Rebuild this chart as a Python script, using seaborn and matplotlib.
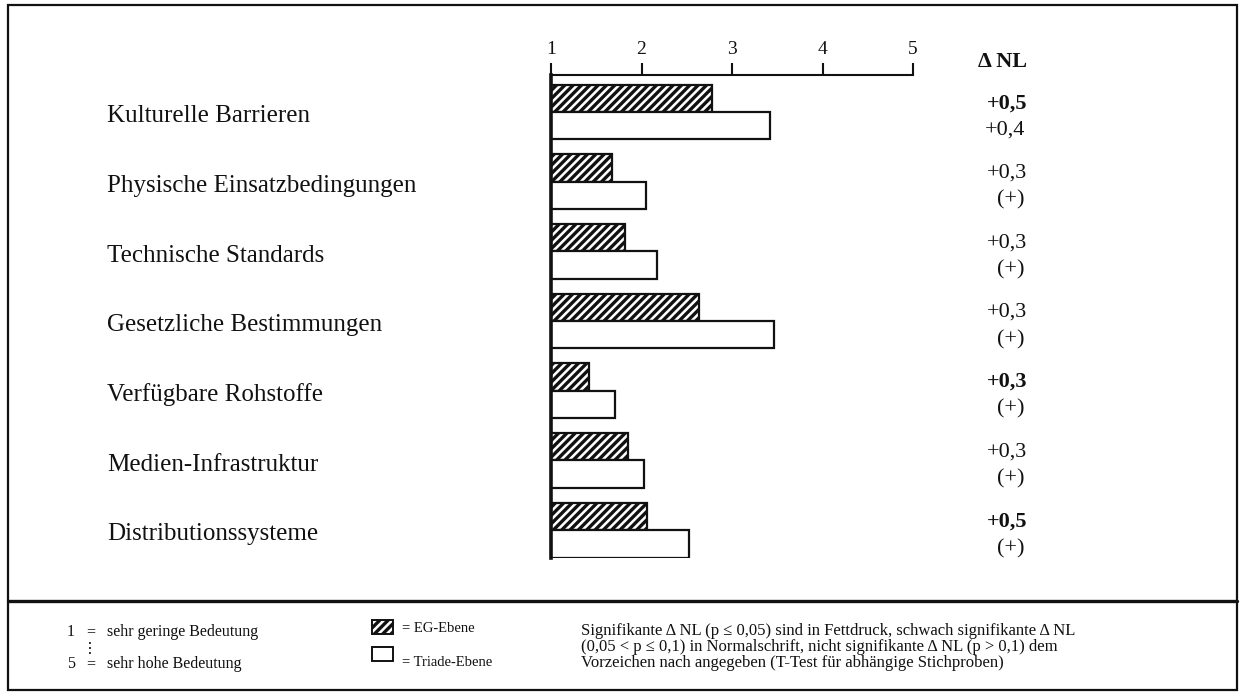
import matplotlib
matplotlib.use("Agg")
import matplotlib.pyplot as plt
import seaborn as sns
import pandas as pd
from matplotlib.patches import Rectangle
from matplotlib.lines import Line2D
import matplotlib.transforms as mtransforms

categories = ["Kulturelle Barrieren", "Physische Einsatzbedingungen", "Technische Standards",
              "Gesetzliche Bestimmungen", "Verfügbare Rohstoffe", "Medien-Infrastruktur",
              "Distributionssysteme"]
eg_values = [2.78, 1.67, 1.82, 2.64, 1.42, 1.85, 2.06]
triade_values = [3.42, 2.05, 2.17, 3.46, 1.71, 2.03, 2.52]
series_names = ["EG-Ebene", "Triade-Ebene"]
delta_top = ["+0,5", "+0,3", "+0,3", "+0,3", "+0,3", "+0,3", "+0,5"]
delta_top_bold = [True, False, False, False, True, False, True]
delta_bottom = ["+0,4", "(+)", "(+)", "(+)", "(+)", "(+)", "(+)"]
x_ticks = [1, 2, 3, 4, 5]

sns.set_theme(style="white")
plt.rcParams["font.family"] = ["Liberation Serif", "DejaVu Serif"]
plt.rcParams["hatch.linewidth"] = 2.4

W, H = 1241, 696
fig = plt.figure(figsize=(W / 100, H / 100), dpi=100)
fig.patch.set_facecolor("white")

def fx(px):
    return px / W

def fy(py):
    return 1 - py / H

ax = fig.add_axes([fx(551), fy(558), fx(913) - fx(551), (558 - 75) / H])

df = pd.DataFrame({
    "Kategorie": categories * 2,
    "Wert": eg_values + triade_values,
    "Ebene": [series_names[0]] * len(categories) + [series_names[1]] * len(categories),
})

sns.barplot(data=df, y="Kategorie", x="Wert", hue="Ebene", orient="h",
            palette=["white", "white"], edgecolor="#111111", linewidth=1.6,
            width=0.786, gap=0, legend=False, ax=ax)

for bar in ax.containers[0]:
    bar.set_hatch("////")

ax.set_xlim(1, 5)
ax.set_ylim(6.4, -0.53)
ax.set_xticks(x_ticks)
ax.set_xticklabels([str(t) for t in x_ticks])
ax.xaxis.tick_top()
ax.tick_params(axis="x", direction="out", length=9, width=1.5, colors="#111111",
               labelsize=14, pad=3, top=True, bottom=False)
ax.tick_params(axis="y", left=False, labelleft=False)
ax.set_xlabel("")
ax.set_ylabel("")
for s in ["right", "bottom"]:
    ax.spines[s].set_visible(False)
ax.spines["top"].set_linewidth(1.5)
ax.spines["top"].set_color("#111111")
ax.spines["left"].set_linewidth(2.6)
ax.spines["left"].set_color("#111111")
ax.set_facecolor("white")

# category labels
trans_lab = mtransforms.blended_transform_factory(fig.transFigure, ax.transData)
for i, c in enumerate(categories):
    ax.text(fx(107), i + 0.06, c, transform=trans_lab, ha="left", va="center",
            fontsize=18, color="#111111", clip_on=False)

# delta NL column
for i in range(len(categories)):
    ax.text(fx(1027), i - 0.196 + 0.07, delta_top[i], transform=trans_lab, ha="right",
            va="center", fontsize=16, color="#111111",
            fontweight="bold" if delta_top_bold[i] else "normal", clip_on=False)
    ax.text(fx(1025), i + 0.196 + 0.07, delta_bottom[i], transform=trans_lab, ha="right",
            va="center", fontsize=16, color="#111111", clip_on=False)
fig.text(fx(978), fy(62), "\u0394 NL", ha="left", va="center", fontsize=16,
         fontweight="bold", color="#111111")

# frame
fig.add_artist(Rectangle((fx(8), fy(690)), fx(1237) - fx(8), fy(5) - fy(690),
                         transform=fig.transFigure, fill=False, lw=1.6, ec="#111111"))
fig.add_artist(Line2D([fx(8), fx(1237)], [fy(601), fy(601)], transform=fig.transFigure,
                      lw=2.4, color="#111111"))

# legend / explanations
fs = 11.5
fig.text(fx(67), fy(632), "1", ha="left", va="center", fontsize=fs, color="#111111")
fig.text(fx(86), fy(632), "=", ha="left", va="center", fontsize=fs, color="#111111")
fig.text(fx(107), fy(632), "sehr geringe Bedeutung", ha="left", va="center", fontsize=fs, color="#111111")
fig.text(fx(90), fy(648), "\u22ee", ha="center", va="center", fontsize=fs, color="#111111",
         family="DejaVu Sans")
fig.text(fx(67), fy(664), "5", ha="left", va="center", fontsize=fs, color="#111111")
fig.text(fx(86), fy(664), "=", ha="left", va="center", fontsize=fs, color="#111111")
fig.text(fx(107), fy(664), "sehr hohe Bedeutung", ha="left", va="center", fontsize=fs, color="#111111")

fig.add_artist(Rectangle((fx(372), fy(634)), fx(393) - fx(372), fy(620) - fy(634),
                         transform=fig.transFigure, facecolor="white", ec="#111111",
                         lw=1.4, hatch="////"))
fig.text(fx(402), fy(628), "= EG-Ebene", ha="left", va="center", fontsize=fs - 1, color="#111111")
fig.add_artist(Rectangle((fx(372), fy(661)), fx(393) - fx(372), fy(647) - fy(661),
                         transform=fig.transFigure, facecolor="white", ec="#111111", lw=1.4))
fig.text(fx(402), fy(663), "= Triade-Ebene", ha="left", va="center", fontsize=fs - 1, color="#111111")

note = ["Signifikante \u0394 NL (p \u2264 0,05) sind in Fettdruck, schwach signifikante \u0394 NL",
        "(0,05 < p \u2264 0,1) in Normalschrift, nicht signifikante \u0394 NL (p > 0,1) dem",
        "Vorzeichen nach angegeben (T-Test f\u00fcr abh\u00e4ngige Stichproben)"]
for k, line in enumerate(note):
    fig.text(fx(581), fy(631 + 16 * k), line, ha="left", va="center", fontsize=12, color="#111111")

fig.savefig("out.png", dpi=100, facecolor="white")
